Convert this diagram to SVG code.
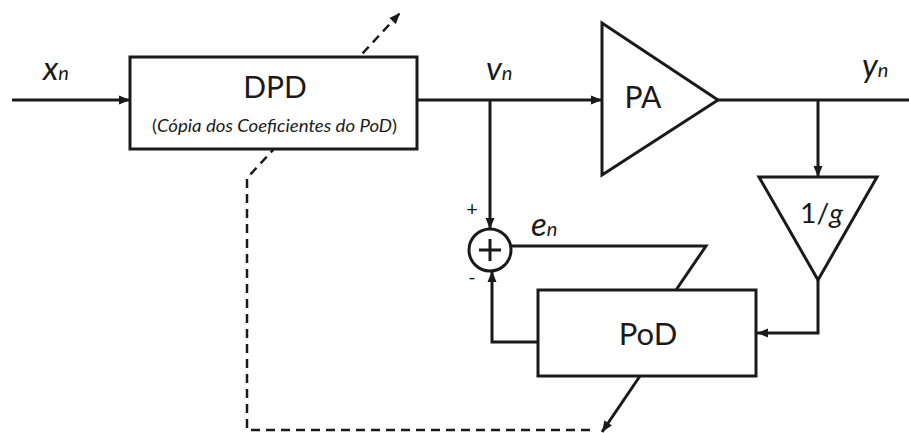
<svg xmlns="http://www.w3.org/2000/svg" width="909" height="433" viewBox="0 0 909 433">
<style>
.ln{fill:none;stroke:#1a1a1a;stroke-width:3}
.dash{fill:none;stroke:#1a1a1a;stroke-width:2.5;stroke-dasharray:9 6}
.blk{fill:#fff;stroke:#1a1a1a;stroke-width:3}
.t{font-family:Lato,"Liberation Sans",sans-serif;fill:#1a1a1a}
.i{font-style:italic}
</style>
<defs>
<marker id="ar" markerUnits="userSpaceOnUse" markerWidth="12" markerHeight="10" refX="11" refY="5" orient="auto">
<path d="M0,0.5 L11,5 L0,9.5 z" fill="#1a1a1a"/>
</marker>
</defs>
<rect width="909" height="433" fill="#fff"/>
<g id="connectors">
<path class="dash" d="M590,430 H247 V178 L400,13" marker-end="url(#ar)"/>
<path class="ln" d="M12,100 H130" marker-end="url(#ar)"/>
<path class="ln" d="M417,100 H602" marker-end="url(#ar)"/>
<path class="ln" d="M718,100 H909"/>
<path class="ln" d="M490,100 V229" marker-end="url(#ar)"/>
<path class="ln" d="M818,100 V177" marker-end="url(#ar)"/>
<path class="ln" d="M818,280 V333 H757" marker-end="url(#ar)"/>
<path class="ln" d="M538,342 H492 V271" marker-end="url(#ar)"/>
<path class="ln" d="M511,246 H706 L676,290"/>
<path class="ln" d="M640,376 L602,432" marker-end="url(#ar)"/>
</g>
<g id="dpd">
<rect class="blk" x="130" y="57" width="287" height="92"/>
<text class="t" x="275" y="98" font-size="30" text-anchor="middle">DPD</text>
<text class="t" x="152" y="132" font-size="17" textLength="245" lengthAdjust="spacingAndGlyphs">(<tspan class="i">Cópia dos Coeficientes do PoD</tspan>)</text>
</g>
<g id="pa">
<polygon class="blk" points="602,23 602,175 718,100"/>
<text class="t" x="643" y="108" font-size="30" text-anchor="middle">PA</text>
</g>
<g id="gain">
<polygon class="blk" points="759,177 877,177 818,280"/>
<text class="t" x="800" y="223" font-size="27" textLength="43" lengthAdjust="spacingAndGlyphs">1/<tspan class="i">g</tspan></text>
</g>
<g id="pod">
<rect class="blk" x="538" y="290" width="218" height="86"/>
<text class="t" x="648" y="345" font-size="31" text-anchor="middle">PoD</text>
</g>
<g id="sum">
<circle class="blk" cx="490" cy="250" r="21"/>
<path class="ln" d="M479,250 H501 M490,239 V261"/>
<text class="t" x="472" y="216" font-size="20" text-anchor="middle">+</text>
<text class="t" x="472" y="284" font-size="20" text-anchor="middle">-</text>
</g>
<g id="labels">
<text class="t i" x="43" y="80" font-size="33">x<tspan font-size="20">n</tspan></text>
<text class="t i" x="486" y="80" font-size="33">v<tspan font-size="20">n</tspan></text>
<text class="t i" x="862" y="77" font-size="33">y<tspan font-size="20">n</tspan></text>
<text class="t i" x="531" y="236" font-size="33">e<tspan font-size="20">n</tspan></text>
</g>
</svg>
